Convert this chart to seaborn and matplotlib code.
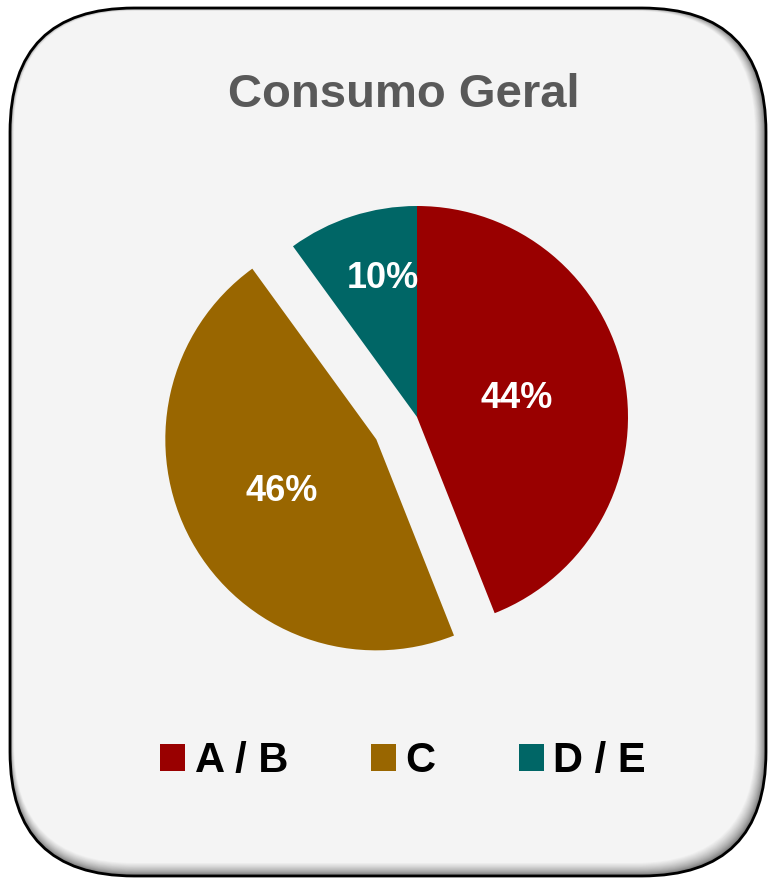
import numpy as np
import matplotlib.pyplot as plt
import seaborn as sns
from matplotlib.patches import FancyBboxPatch
from matplotlib.colors import to_rgb

# chart data
title = 'Consumo Geral'
classes = ['A / B', 'C', 'D / E']
shares = [44, 46, 10]
colors = ['#990000', '#996600', '#006666']
explode = [0, 0.22, 0]
label_dist = [0.47, 0.51, 0.69]
label_nudge = [0.01, 0.0, 0.05]   # small sideways shift, in radius units

sns.set_theme(style='white')
plt.rcParams['font.family'] = ['Liberation Sans', 'DejaVu Sans']

W, H = 769, 880
fig = plt.figure(figsize=(W / 100, H / 100), dpi=100, facecolor='white')

# background card, drawn in pixel units
bg = fig.add_axes([0, 0, 1, 1])
bg.set_xlim(0, W)
bg.set_ylim(H, 0)
bg.axis('off')

outer = (10, 8, 766, 876)
inner = (14, 11, 755, 863)
n = 16
c0, c1 = np.array(to_rgb('#5e5e5e')), np.array(to_rgb('#f4f4f4'))
for k in range(n + 1):
    t = k / n
    x0 = outer[0] + (inner[0] - outer[0]) * t
    y0 = outer[1] + (inner[1] - outer[1]) * t
    x1 = outer[2] + (inner[2] - outer[2]) * t
    y1 = outer[3] + (inner[3] - outer[3]) * t
    col = c0 + (c1 - c0) * min(1, t ** 0.6)
    bg.add_patch(FancyBboxPatch((x0, y0), x1 - x0, y1 - y0,
                                boxstyle='round,pad=0,rounding_size=%.1f' % (124 - 4 * t),
                                facecolor=col, edgecolor='none'))
bg.add_patch(FancyBboxPatch((outer[0], outer[1]), outer[2] - outer[0], outer[3] - outer[1],
                            boxstyle='round,pad=0,rounding_size=124',
                            facecolor='none', edgecolor='black', linewidth=2))

# pie
cx, cy, r = 417, 417, 211
ax = fig.add_axes([(cx - r) / W, (H - cy - r) / H, 2 * r / W, 2 * r / H])
wedges, texts, autotexts = ax.pie(shares, colors=colors, explode=explode,
                                  startangle=90, counterclock=False,
                                  autopct='%d%%', pctdistance=0.5,
                                  wedgeprops=dict(linewidth=0),
                                  textprops=dict(color='white', fontsize=26,
                                                 fontweight='bold'))
for w, txt, d, dx in zip(wedges, autotexts, label_dist, label_nudge):
    th = np.deg2rad((w.theta1 + w.theta2) / 2)
    txt.set_position((w.center[0] + d * np.cos(th) + dx, w.center[1] + d * np.sin(th)))
ax.set_xlim(-1, 1)
ax.set_ylim(-1, 1)
ax.axis('off')

fig.text(404 / W, 1 - 95 / H, title, ha='center', va='center',
         fontsize=34, fontweight='bold', color='#595959')

leg = fig.legend(wedges, classes, loc='center', bbox_to_anchor=(403 / W, 1 - 761 / H),
                 ncol=3, frameon=False, fontsize=30, handlelength=0.6, handleheight=0.6,
                 handletextpad=0.22, columnspacing=2.0)
for t in leg.get_texts():
    t.set_fontweight('bold')
    t.set_color('black')

fig.savefig('out.png', dpi=100, facecolor='white')
